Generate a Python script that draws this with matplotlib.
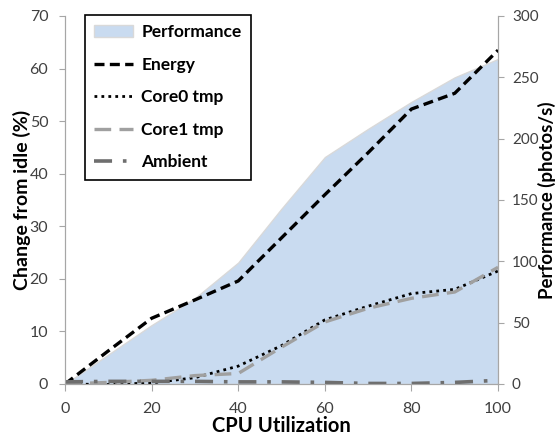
import matplotlib.pyplot as plt

plt.rcParams['font.family'] = ['Lato', 'DejaVu Sans']

cpu = [0, 10, 20, 30, 40, 50, 60, 70, 80, 90, 100]
performance = [0, 24, 48, 70, 99, 143, 185, 208, 230, 250, 265]
energy = [0, 6.3, 12.5, 16, 19.6, 27.8, 36, 44, 52.3, 55.3, 63.5]
core0 = [0, -0.1, 0.2, 1.2, 3.4, 7.3, 12.2, 14.8, 17.2, 18, 21.5]
core1 = [0, 0.3, 0.7, 1.6, 2.0, 7.0, 11.8, 14.4, 16.3, 17.5, 22.2]
ambient = [0.4, 0.5, 0.5, 0.5, 0.4, 0.4, 0.3, 0.1, 0.1, 0.3, 0.7]

grey = '#a6a6a6'
txt = '#404040'

fig = plt.figure(figsize=(5.59, 4.37), dpi=100)
ax = fig.add_axes([0.1163, 0.1213, 0.7747, 0.8421])
ax2 = ax.twinx()

# performance area on the right axis, drawn behind the lines
ax2.fill_between(cpu, performance, 0, facecolor='#c9dbf0', edgecolor='#d9d9d9',
                 linewidth=1, label='Performance')
ax2.set_ylim(0, 300)
ax.set_zorder(ax2.get_zorder() + 1)
ax.patch.set_visible(False)

ax.plot(cpu, energy, color='black', ls=(0, (3, 1.6)), lw=2.4, label='Energy')
ax.plot(cpu, core0, color='black', ls=(0, (1, 1.5)), lw=2, label='Core0 tmp')
ax.plot(cpu, core1, color='#a0a0a0', ls=(0, (5, 2.5)), lw=2.4, label='Core1 tmp')
ax.plot(cpu, ambient, color='#6e6e6e', ls=(0, (5, 3, 1, 3)), lw=2.6, label='Ambient')

ax.set_xlim(0, 100)
ax.set_ylim(0, 70)
ax.set_xticks(range(0, 101, 20))
ax.set_yticks(range(0, 71, 10))
ax2.set_yticks(range(0, 301, 50))

for a in (ax, ax2):
    for s in a.spines.values():
        s.set_color(grey)
    a.spines['top'].set_visible(False)
    a.tick_params(colors=grey, labelcolor=txt, labelsize=11.5, length=4)
ax.tick_params(axis='x', pad=8, length=5)
ax.tick_params(axis='y', pad=8)
ax2.tick_params(axis='y', pad=6, labelsize=11)

ax.set_xlabel('CPU Utilization', fontsize=14.5, fontweight='bold', color='black')
ax.set_ylabel('Change from idle (%)', fontsize=14, fontweight='bold', color='black')
ax2.set_ylabel('Performance (photos/s)', fontsize=13.5, fontweight='bold', color='black')
ax.xaxis.label.set_va('center')
ax.yaxis.label.set_va('center')
ax2.yaxis.label.set_va('center')
ax.xaxis.set_label_coords(0.5, -0.114)
ax.yaxis.set_label_coords(-0.099, 0.5)
ax2.yaxis.set_label_coords(1.113, 0.5)

h1, l1 = ax2.get_legend_handles_labels()
h2, l2 = ax.get_legend_handles_labels()
leg = ax.legend(h1 + h2, l1 + l2, loc='upper left', bbox_to_anchor=(0.046, 1.003),
                borderaxespad=0, frameon=True, fancybox=False, edgecolor='black',
                framealpha=1, prop={'weight': 'bold', 'size': 12.5}, handlelength=2.2,
                labelspacing=0.95, borderpad=0.55, handletextpad=0.5)
leg.get_frame().set_linewidth(1.2)

fig.savefig('out.png', dpi=100)
